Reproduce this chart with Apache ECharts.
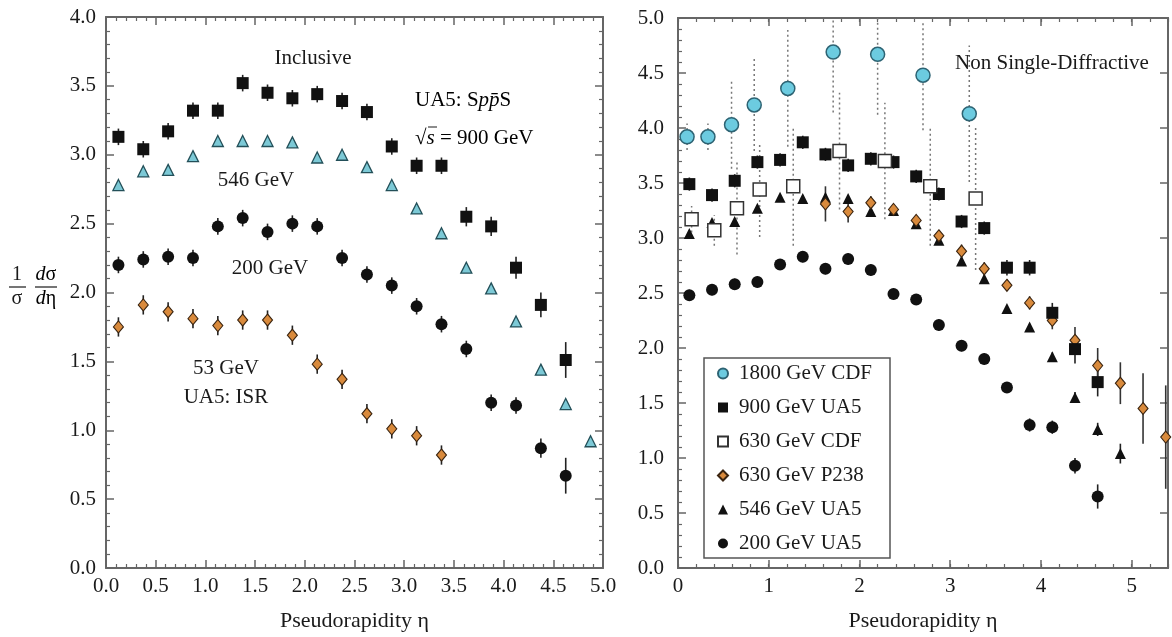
<!DOCTYPE html>
<html><head><meta charset="utf-8">
<script src="https://cdn.jsdelivr.net/npm/echarts@6.0.0/dist/echarts.min.js"></script>
<style>html,body{margin:0;padding:0;background:#fff}#c{width:1172px;height:637px}</style>
</head><body><div id="c"></div>
<script>
// ---------- DATA ----------
const etaUA5 = [0.125,0.375,0.625,0.875,1.125,1.375,1.625,1.875,2.125,2.375,2.625,2.875,3.125,3.375,3.625,3.875,4.125,4.375,4.625,4.875,5.125,5.375];

// Left panel: Inclusive
const L900 = [3.13,3.04,3.17,3.32,3.32,3.52,3.45,3.41,3.44,3.39,3.31,3.06,2.92,2.92,2.55,2.48,2.18,1.91,1.51];
const L900err = [0.06,0.06,0.06,0.06,0.06,0.06,0.06,0.06,0.06,0.06,0.06,0.06,0.06,0.06,0.07,0.07,0.08,0.09,0.13];
const L546 = [2.78,2.88,2.89,2.99,3.10,3.10,3.10,3.09,2.98,3.00,2.91,2.78,2.61,2.43,2.18,2.03,1.79,1.44,1.19,0.92];
const L200 = [2.20,2.24,2.26,2.25,2.48,2.54,2.44,2.50,2.48,2.25,2.13,2.05,1.90,1.77,1.59,1.20,1.18,0.87,0.67];
const L200err = [0.06,0.06,0.06,0.06,0.06,0.06,0.06,0.06,0.06,0.06,0.06,0.06,0.06,0.06,0.06,0.06,0.06,0.07,0.13];
const L53 = [1.75,1.91,1.86,1.81,1.76,1.80,1.80,1.69,1.48,1.37,1.12,1.01,0.96,0.82];
const L53err = [0.07,0.07,0.07,0.07,0.07,0.07,0.07,0.07,0.07,0.07,0.07,0.07,0.07,0.07];

// Right panel: Non Single-Diffractive
const eta1800 = [0.10,0.33,0.59,0.84,1.21,1.71,2.20,2.70,3.21];
const R1800 = [3.92,3.92,4.03,4.21,4.36,4.69,4.67,4.48,4.13];
const R1800err = [0.12,0.12,0.40,0.42,0.53,0.55,0.55,0.50,0.62];
const eta630cdf = [0.15,0.40,0.65,0.90,1.27,1.78,2.28,2.78,3.28];
const R630cdf = [3.17,3.07,3.27,3.44,3.47,3.79,3.70,3.47,3.36];
const R630cdfErr = [0.12,0.14,0.42,0.43,0.54,0.53,0.53,0.54,0.65];
const R900 = [3.49,3.39,3.52,3.69,3.71,3.87,3.76,3.66,3.72,3.69,3.56,3.40,3.15,3.09,2.73,2.73,2.32,1.99,1.69];
const R900err = [0.06,0.06,0.06,0.06,0.06,0.06,0.06,0.06,0.06,0.06,0.06,0.06,0.06,0.06,0.07,0.07,0.09,0.13,0.13];
const R546 = [3.04,3.14,3.15,3.27,3.37,3.36,3.37,3.36,3.24,3.25,3.13,2.98,2.79,2.63,2.36,2.19,1.92,1.55,1.26,1.04];
const R546err = [0.03,0.03,0.03,0.03,0.03,0.03,0.03,0.03,0.03,0.03,0.03,0.03,0.03,0.03,0.03,0.03,0.04,0.05,0.06,0.09];
const etaP238 = [1.625,1.875,2.125,2.375,2.625,2.875,3.125,3.375,3.625,3.875,4.125,4.375,4.625,4.875,5.125,5.375];
const RP238 = [3.31,3.24,3.32,3.26,3.16,3.02,2.88,2.72,2.57,2.41,2.25,2.07,1.84,1.68,1.45,1.19];
const RP238err = [0.16,0.10,0.06,0.05,0.05,0.05,0.06,0.06,0.05,0.06,0.08,0.12,0.16,0.19,0.32,0.47];
const R200 = [2.48,2.53,2.58,2.60,2.76,2.83,2.72,2.81,2.71,2.49,2.44,2.21,2.02,1.90,1.64,1.30,1.28,0.93,0.65];
const R200err = [0.05,0.05,0.05,0.05,0.05,0.05,0.05,0.05,0.05,0.05,0.05,0.05,0.05,0.05,0.05,0.06,0.06,0.07,0.11];

const legendNames = ['1800 GeV CDF','900 GeV UA5','630 GeV CDF','630 GeV P238','546 GeV UA5','200 GeV UA5'];

// ---------- STYLE ----------
const FONT = 'Liberation Serif';
const AX = '#666';
const TXT = '#1a1a1a';

function pts(xs, ys){ return ys.map((y,i)=>[xs[i], y]); }
function errData(xs, ys, es){ return ys.map((y,i)=>[xs[i], y-es[i], y+es[i]]); }

function scat(name, xi, yi, xs, ys, symbol, size, fill, border, bw, z){
  return {type:'scatter', name, xAxisIndex:xi, yAxisIndex:yi, data:pts(xs,ys),
    symbol, symbolSize:size, z, itemStyle:{color:fill, borderColor:border, borderWidth:bw, opacity:1},
    emphasis:{disabled:true}, animation:false};
}
function errs(name, xi, yi, xs, ys, es, color, width, dash, z, ymax){
  return {type:'custom', name, xAxisIndex:xi, yAxisIndex:yi, z, clip:true, animation:false,
    data:errData(xs,ys,es),
    renderItem(params, api){
      const x = api.value(0);
      const lo = Math.max(api.value(1), 0), hi = Math.min(api.value(2), ymax);
      const p1 = api.coord([x, lo]), p2 = api.coord([x, hi]);
      return {type:'line', shape:{x1:p1[0],y1:p1[1],x2:p2[0],y2:p2[1]},
        style:{stroke:color, lineWidth:width, lineDash:dash||null}};
    }};
}

function axBase(){
  return {type:'value', splitLine:{show:false}, minorSplitLine:{show:false},
    axisLine:{show:true, onZero:false, lineStyle:{color:AX, width:2}},
    axisTick:{show:true, inside:true, length:8, lineStyle:{color:AX, width:1.5}},
    minorTick:{show:false}};
}
function mk(o, extra){ return Object.assign(axBase(), extra); }

const xAxes = [
  // left panel
  mk(null,{gridIndex:0, position:'bottom', min:0, max:5, interval:0.5,
    minorTick:{show:true, splitNumber:5, length:4, lineStyle:{color:AX,width:1.2}},
    axisLabel:{formatter:v=>v.toFixed(1), fontFamily:FONT, fontSize:21, color:TXT, margin:8},
    name:'Pseudorapidity η', nameLocation:'middle', nameGap:42,
    nameTextStyle:{fontFamily:FONT, fontSize:22, color:TXT}}),
  mk(null,{gridIndex:0, position:'top', min:0, max:5, interval:0.5,
    minorTick:{show:true, splitNumber:5, length:4, lineStyle:{color:AX,width:1.2}},
    axisLabel:{show:false}}),
  // right panel
  mk(null,{gridIndex:1, position:'bottom', min:0, max:5.4, interval:0.2,
    axisTick:{show:true, inside:true, length:4, lineStyle:{color:AX,width:1.2}}, axisLabel:{show:false}}),
  mk(null,{gridIndex:1, position:'bottom', min:0, max:5.4, interval:1,
    axisLabel:{formatter:v=>(Math.abs(v-Math.round(v))<1e-6?String(Math.round(v)):''), fontFamily:FONT, fontSize:21, color:TXT, margin:8},
    name:'Pseudorapidity η', nameLocation:'middle', nameGap:42,
    nameTextStyle:{fontFamily:FONT, fontSize:22, color:TXT}}),
  mk(null,{gridIndex:1, position:'top', min:0, max:5.4, interval:0.2,
    axisTick:{show:true, inside:true, length:4, lineStyle:{color:AX,width:1.2}}, axisLabel:{show:false}}),
  mk(null,{gridIndex:1, position:'top', min:0, max:5.4, interval:1, axisLabel:{show:false}})
];
const yAxes = [
  mk(null,{gridIndex:0, position:'left', min:0, max:4, interval:0.5,
    minorTick:{show:true, splitNumber:5, length:4, lineStyle:{color:AX,width:1.2}},
    axisLabel:{formatter:v=>v.toFixed(1), fontFamily:FONT, fontSize:21, color:TXT, margin:10}}),
  mk(null,{gridIndex:0, position:'right', min:0, max:4, interval:0.5,
    minorTick:{show:true, splitNumber:5, length:4, lineStyle:{color:AX,width:1.2}},
    axisLabel:{show:false}}),
  mk(null,{gridIndex:1, position:'left', min:0, max:5, interval:0.5,
    minorTick:{show:true, splitNumber:5, length:4, lineStyle:{color:AX,width:1.2}},
    axisLabel:{formatter:v=>v.toFixed(1), fontFamily:FONT, fontSize:21, color:TXT, margin:14}}),
  mk(null,{gridIndex:1, position:'right', min:0, max:5, interval:0.5, axisLabel:{show:false}})
];

const BLK = '#111';
const series = [
  // left panel error bars
  errs('e L900',0,0,etaUA5,L900,L900err,'#222',1.6,null,2,4),
  errs('e L200',0,0,etaUA5,L200,L200err,'#222',1.6,null,2,4),
  errs('e L53',0,0,etaUA5,L53,L53err,'#222',1.6,null,2,4),
  // left panel markers
  scat('L546',0,0,etaUA5,L546,'triangle',11,'#7cc9d6','#234f58',1.3,5),
  scat('L53',0,0,etaUA5,L53,'diamond',[10,12],'#d98a3c','#3a2410',1.1,5),
  scat('L200',0,0,etaUA5,L200,'circle',12,BLK,BLK,0,5),
  scat('L900',0,0,etaUA5,L900,'rect',12,BLK,BLK,0,5),
  // right panel error bars
  errs('e R1800',3,2,eta1800,R1800,R1800err,'#777',1.5,[2,3],2,5),
  errs('e R630cdf',3,2,eta630cdf,R630cdf,R630cdfErr,'#777',1.5,[2,3],2,5),
  errs('e R900',3,2,etaUA5,R900,R900err,'#222',1.6,null,2,5),
  errs('e R546',3,2,etaUA5,R546,R546err,'#222',1.6,null,2,5),
  errs('e RP238',3,2,etaP238,RP238,RP238err,'#333',1.6,null,2,5),
  errs('e R200',3,2,etaUA5,R200,R200err,'#222',1.6,null,2,5),
  // right panel markers
  scat('546 GeV UA5',3,2,etaUA5,R546,'triangle',11,BLK,BLK,0,5),
  scat('630 GeV P238',3,2,etaP238,RP238,'diamond',[10,12],'#d98a3c','#3a2410',1.1,6),
  scat('200 GeV UA5',3,2,etaUA5,R200,'circle',12,BLK,BLK,0,6),
  scat('900 GeV UA5',3,2,etaUA5,R900,'rect',12,BLK,BLK,0,6),
  scat('630 GeV CDF',3,2,eta630cdf,R630cdf,'rect',13,'#fff','#333',1.5,7),
  scat('1800 GeV CDF',3,2,eta1800,R1800,'circle',14,'#6ccbe0','#2d6373',1.5,7)
];

const txt = (text,x,y,align,size,extra)=>Object.assign({type:'text', z:50, style:{text, x, y, align:align||'center', verticalAlign:'middle',
  font:(size||21)+'px "'+FONT+'"', fill:TXT}}, extra||{});

const rich = {r:{fontFamily:FONT, fontSize:21, color:TXT}, i:{fontFamily:FONT, fontSize:21, fontStyle:'italic', color:TXT}};

const graphic = [
  txt('Inclusive',313,58),
  {type:'text', z:50, style:{text:'{r|UA5: S}{i|pp\u0304}{r|S}', x:415, y:100, align:'left', verticalAlign:'middle', rich}},
  {type:'text', z:50, style:{text:'{r|\u221A}{i|s}{r| = 900 GeV}', x:415, y:138, align:'left', verticalAlign:'middle', rich}},
  {type:'line', z:50, shape:{x1:428,y1:127,x2:437,y2:127}, style:{stroke:TXT, lineWidth:1}},
  txt('546 GeV',256,180),
  txt('200 GeV',270,268),
  txt('53 GeV',226,368),
  txt('UA5: ISR',226,397),
  txt('Non Single-Diffractive',1052,63),
  // y-axis label: 1/sigma dsigma/deta
  txt('1',17,275,'center',20),
  {type:'line', z:50, shape:{x1:9,y1:287,x2:26,y2:287}, style:{stroke:TXT, lineWidth:1.2}},
  txt('σ',17,299,'center',20),
  {type:'text', z:50, style:{text:'{i|d}{r|σ}', x:46, y:275, align:'center', verticalAlign:'middle',
    rich:{r:{fontFamily:FONT,fontSize:20,color:TXT}, i:{fontFamily:FONT,fontSize:20,fontStyle:'italic',color:TXT}}}},
  {type:'line', z:50, shape:{x1:35,y1:287,x2:57,y2:287}, style:{stroke:TXT, lineWidth:1.2}},
  {type:'text', z:50, style:{text:'{i|d}{r|η}', x:46, y:299, align:'center', verticalAlign:'middle',
    rich:{r:{fontFamily:FONT,fontSize:20,color:TXT}, i:{fontFamily:FONT,fontSize:20,fontStyle:'italic',color:TXT}}}}
];

const chart = echarts.init(document.getElementById('c'), null, {renderer:'canvas'});
chart.setOption({
  animation:false,
  backgroundColor:'#fff',
  grid:[
    {left:106, top:17, width:497, height:560, containLabel:false},
    {left:678, top:18, width:490, height:558, containLabel:false}
  ],
  xAxis:xAxes,
  yAxis:yAxes,
  legend:{data:legendNames, orient:'vertical', left:704, top:358,
    padding:[5,18,4,13], itemGap:13, itemWidth:10, itemHeight:10,
    borderColor:'#555', borderWidth:1.5, backgroundColor:'#fff',
    textStyle:{fontFamily:FONT, fontSize:21, color:TXT, padding:[0,0,0,6]},
    selectedMode:false, z:20},
  series,
  graphic
});
</script>
</body></html>
